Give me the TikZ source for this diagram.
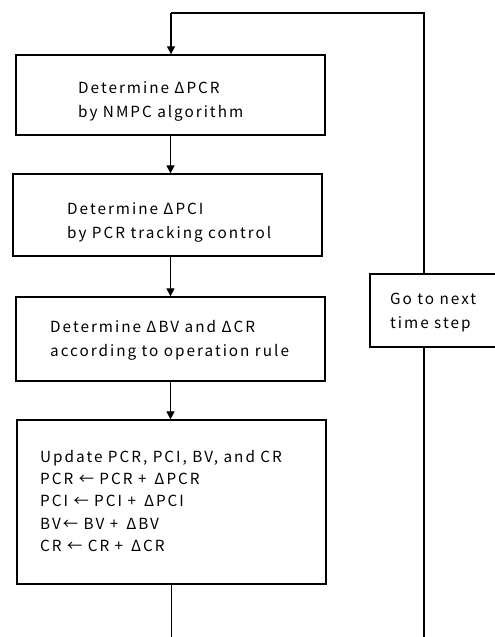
\documentclass[tikz,border=0pt]{standalone}
\usepackage{fontspec}
\setmainfont[LetterSpace=13]{Noto Sans CJK JP}
\usetikzlibrary{arrows.meta}
\begin{document}
\begin{tikzpicture}[x=1pt,y=1pt,
  box/.style={draw,line width=1.3pt,minimum width=309pt,inner sep=0pt},
  txt/.style={anchor=west,align=left,inner sep=0pt,font=\fontsize{15.3}{24}\selectfont},
  ln/.style={line width=1.3pt},
  arr/.style={line width=1.3pt,-{Triangle[length=8pt,width=8pt]}}]
\useasboundingbox (0,0) rectangle (495,637);
\begin{scope}
\clip (0,0) rectangle (495,637);
\node[box,minimum height=80pt] (b1) at (170.5,542) {};
\node[box,minimum height=82pt] (b2) at (167.5,422) {};
\node[box,minimum height=84pt] (b3) at (170.5,298) {};
\node[box,minimum height=164pt] (b4) at (171.5,135) {};
\node[box,minimum width=127pt,minimum height=73pt] (r) at (433.5,326.5) {};
\node[txt] (t1) at (78,535.5) {Determine ΔPCR\\by NMPC algorithm};
\node[txt] (t2) at (67,415) {Determine ΔPCI\\by PCR tracking control};
\node[txt] (t3) at (50,296.5) {Determine ΔBV and ΔCR\\according to operation rule};
\node[txt,font=\fontsize{15.3}{22.3}\selectfont] (t4) at (40,136) {Update PCR, PCI, BV, and CR\\PCR ← PCR + \,ΔPCR\\PCI ← PCI + \,ΔPCI\\BV← BV + \,ΔBV\\CR ← CR + \,ΔCR};
\node[txt] (t5) at (390,324.5) {Go to next\\time step};
\coordinate (tl) at (171,624);
\coordinate (tr) at (424,624);
\coordinate (bl) at (171.5,0);
\coordinate (br) at (424,0);
\draw[arr] (b1.south) -- (b1.south |- b2.north);
\draw[arr] (b1.south |- b2.south) -- (b1.south |- b3.north);
\draw[arr] (b3.south) -- (b3.south |- b4.north);
\draw[ln] (b4.south) -- (bl);
\draw[ln] (br) -- (br |- r.south);
\draw[ln] (br |- r.north) -- (tr) -- (tl);
\draw[arr] (tl) -- (b1.north -| tl);
\end{scope}
\end{tikzpicture}
\end{document}
